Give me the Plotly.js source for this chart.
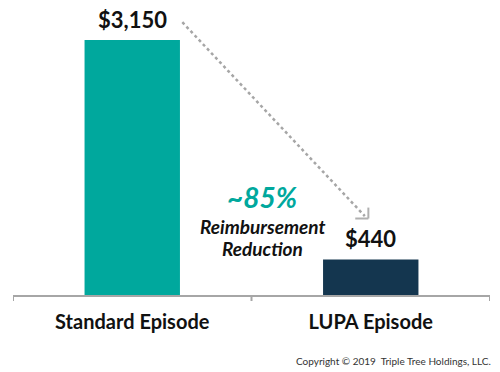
<!DOCTYPE html>
<html>
<head>
<meta charset="utf-8">
<script src="https://cdn.plot.ly/plotly-3.0.1.min.js"></script>
<style>html,body{margin:0;padding:0;background:#fff;}#chart{width:500px;height:372px;}</style>
</head>
<body>
<div id="chart"></div>
<script>
const categories = ["Standard Episode", "LUPA Episode"];
const values = [3150, 440];
const barColors = ["#00A89D", "#14364F"];
const reductionLabel = "~85%";
const reductionLines = ["Reimbursement", "Reduction"];
const copyrightText = "Copyright © 2019  Triple Tree Holdings, LLC.";

const FONT = "Lato, 'Open Sans', sans-serif";

const trace = {
  type: "bar",
  x: [0, 1],
  y: values,
  width: 0.4,
  marker: { color: barColors, line: { width: 0 } },
  hoverinfo: "skip",
  cliponaxis: false
};

const valueAnnotations = values.map((v, i) => ({
  x: i, y: v, xref: "x", yref: "y",
  text: "$" + v.toLocaleString("en-US"),
  showarrow: false, yanchor: "bottom", yshift: 5,
  font: { family: FONT, size: 22, color: "#111", weight: 700 }
}));

const reductionYs = [852, 580];

const layout = {
  width: 500, height: 372,
  margin: { l: 13, r: 10, t: 10, b: 77 },
  paper_bgcolor: "#fff", plot_bgcolor: "#fff",
  showlegend: false,
  xaxis: {
    range: [-0.5, 1.5],
    tickvals: [0, 1],
    ticktext: categories,
    showgrid: false, zeroline: false,
    showline: true, linecolor: "#A6A6A6", linewidth: 2,
    ticks: "",
    tickfont: { family: FONT, size: 20, color: "#111", weight: 700 },
    ticklabelstandoff: 8,
    fixedrange: true
  },
  yaxis: {
    range: [0, 3521],
    visible: false, showgrid: false, zeroline: false, fixedrange: true
  },
  shapes: [
    ...[-0.5, 0.5, 1.5].map(b => ({
      type: "line", xref: "x", yref: "paper", x0: b, x1: b, y0: 0, y1: -0.021,
      line: { color: "#A6A6A6", width: 2 }
    })),
    { type: "line", xref: "x", yref: "y", x0: 0.21, y0: 3370, x1: 0.975, y1: 975,
      line: { color: "#A6A6A6", width: 2.5, dash: "dot" } },
    { type: "line", xref: "x", yref: "y", x0: 0.935, y0: 945, x1: 0.99, y1: 945,
      line: { color: "#B0B0B0", width: 2 } },
    { type: "line", xref: "x", yref: "y", x0: 0.99, y0: 945, x1: 0.99, y1: 1080,
      line: { color: "#B0B0B0", width: 2 } }
  ],
  annotations: [
    ...valueAnnotations,
    { x: 0.545, y: 1210, xref: "x", yref: "y", text: reductionLabel, showarrow: false,
      yanchor: "middle", font: { family: FONT, size: 28, color: "#00A89D", weight: 700, style: "italic" } },
    ...reductionLines.map((t, i) => ({
      x: 0.545, y: reductionYs[i], xref: "x", yref: "y", text: t, showarrow: false,
      yanchor: "middle", font: { family: FONT, size: 19, color: "#111", weight: 700, style: "italic" }
    })),
    { x: 1.0063, y: -0.2316, xref: "paper", yref: "paper", text: copyrightText, showarrow: false,
      xanchor: "right", yanchor: "middle", font: { family: FONT, size: 10, color: "#333" } }
  ]
};

Plotly.newPlot("chart", [trace], layout, { displayModeBar: false, staticPlot: true });
</script>
</body>
</html>
